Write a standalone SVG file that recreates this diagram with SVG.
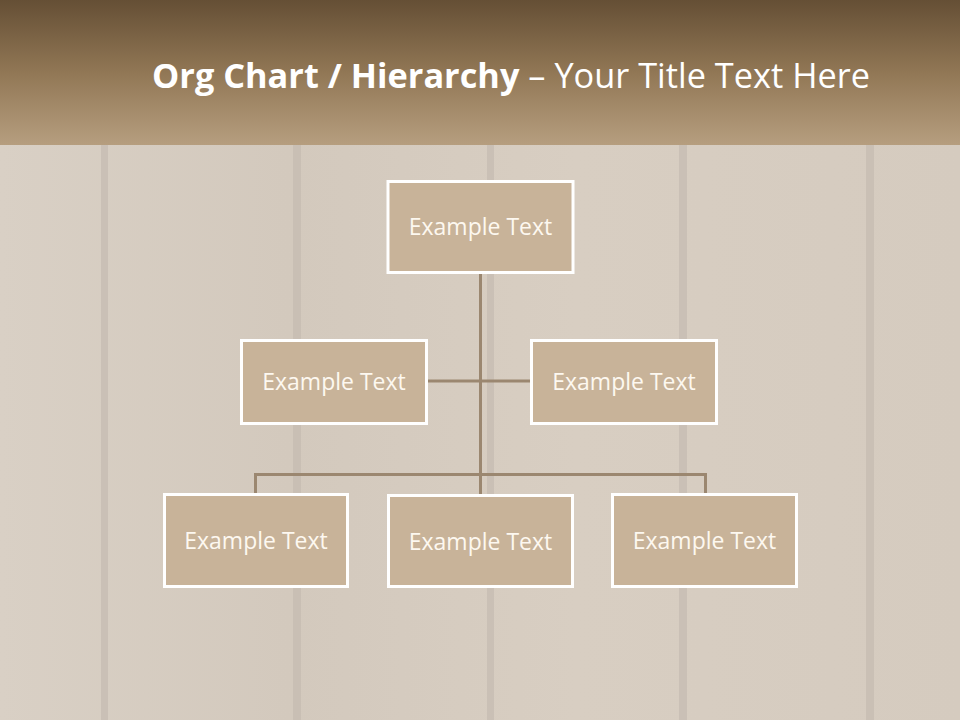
<svg xmlns="http://www.w3.org/2000/svg" width="960" height="720" viewBox="0 0 960 720">
<defs>
<linearGradient id="hdr" x1="0" y1="0" x2="0" y2="1">
<stop offset="0" stop-color="#654f35"/>
<stop offset="0.5" stop-color="#917755"/>
<stop offset="1" stop-color="#b69e7f"/>
</linearGradient>
<linearGradient id="wood" x1="0" y1="0" x2="1" y2="0">
<stop offset="0" stop-color="#d9d0c5"/>
<stop offset="0.3" stop-color="#d3c9bd"/>
<stop offset="0.6" stop-color="#d8cec2"/>
<stop offset="1" stop-color="#d5cbbf"/>
</linearGradient>
<style>
.box{fill:#c8b399;stroke:#ffffff;stroke-width:3}
.lbl{font-family:"Open Sans","Liberation Sans",sans-serif;font-size:23px;fill:#fdf8f0;text-anchor:middle}
.conn{stroke:#9b8770;stroke-width:3;fill:none}
.seam{fill:#c4bab0;opacity:0.7}
.ttl{font-family:"Open Sans","Liberation Sans",sans-serif;font-size:34px;fill:#ffffff}
</style>
</defs>
<rect x="0" y="0" width="960" height="720" fill="url(#wood)"/>
<g id="seams">
<rect class="seam" x="101" y="145" width="7" height="575"/>
<rect class="seam" x="293" y="145" width="8" height="575"/>
<rect class="seam" x="487" y="145" width="7" height="575"/>
<rect class="seam" x="679" y="145" width="8" height="575"/>
<rect class="seam" x="866" y="145" width="8" height="575"/>
</g>
<g id="header">
<rect x="0" y="0" width="960" height="145" fill="url(#hdr)"/>
<text class="ttl" x="152" y="88" textLength="718" lengthAdjust="spacingAndGlyphs"><tspan font-weight="bold">Org Chart / Hierarchy</tspan> – Your Title Text Here</text>
</g>
<g id="connectors">
<line class="conn" x1="480.5" y1="273" x2="480.5" y2="494"/>
<line class="conn" x1="428" y1="381" x2="530" y2="381"/>
<polyline class="conn" points="255.5,493 255.5,474.5 705.5,474.5 705.5,493"/>
</g>
<g id="n0"><rect class="box" x="388" y="181.5" width="185" height="91"/><text class="lbl" x="480.5" y="235">Example Text</text></g>
<g id="n1"><rect class="box" x="241.5" y="340.5" width="185" height="83"/><text class="lbl" x="334" y="390">Example Text</text></g>
<g id="n2"><rect class="box" x="531.5" y="340.5" width="185" height="83"/><text class="lbl" x="624" y="390">Example Text</text></g>
<g id="n3"><rect class="box" x="164.5" y="494.5" width="183" height="92"/><text class="lbl" x="256" y="549">Example Text</text></g>
<g id="n4"><rect class="box" x="388.5" y="495.5" width="184" height="91"/><text class="lbl" x="480.5" y="550">Example Text</text></g>
<g id="n5"><rect class="box" x="612.5" y="494.5" width="184" height="92"/><text class="lbl" x="704.5" y="549">Example Text</text></g>
</svg>
